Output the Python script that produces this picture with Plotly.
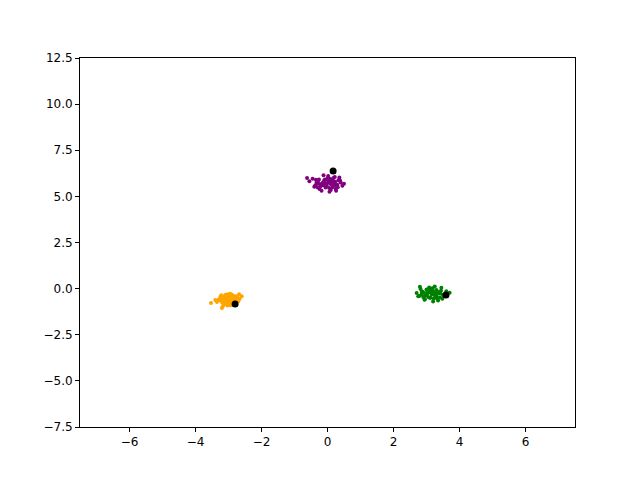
import plotly.graph_objects as go

# cluster points
purple_x = [-0.05, 0.12, -0.21, 0.30, -0.35, 0.05, 0.18, -0.10, 0.25, -0.28, 0.40, -0.45, 0.02, 0.15,
            -0.18, 0.33, -0.02, 0.08, -0.30, 0.22, -0.12, 0.45, -0.55, 0.10, -0.08, 0.28, -0.40, 0.00,
            0.19, -0.24, 0.36, -0.15, 0.06, 0.50, -0.62, 0.14, -0.04, 0.26, -0.33, 0.09, -0.20, 0.04,
            0.31, -0.11, 0.17, -0.26, 0.11, -0.06, 0.23, -0.16, 0.38, -0.37, 0.01, 0.13, -0.09, 0.21,
            -0.29, 0.07, -0.14, 0.27]
purple_y = [5.70, 5.85, 5.55, 5.62, 5.90, 5.45, 6.00, 5.78, 5.40, 5.68, 5.75, 5.95, 6.10, 5.50,
            5.30, 5.88, 5.62, 5.72, 5.48, 6.05, 6.15, 5.58, 5.82, 5.35, 5.92, 5.65, 5.52, 5.98,
            5.80, 5.40, 6.02, 5.60, 5.25, 5.68, 6.00, 5.90, 5.55, 5.30, 5.75, 5.82, 5.66, 5.77,
            5.50, 5.84, 5.58, 5.92, 5.64, 5.48, 5.79, 5.70, 5.86, 5.60, 5.88, 5.72, 5.60, 5.68,
            5.80, 5.96, 5.74, 5.56]

orange_x = [-3.05, -2.90, -3.15, -2.80, -3.25, -2.95, -3.10, -2.85, -3.00, -3.20, -2.75, -3.35, -2.92,
            -3.08, -2.88, -3.18, -2.98, -3.12, -2.82, -3.28, -2.70, -3.02, -2.94, -3.22, -2.86, -3.14,
            -3.53, -3.20, -2.60, -2.66, -3.04, -2.96, -3.16, -2.84, -3.06, -2.78, -3.24, -2.91, -3.01,
            -3.11, -2.89, -3.19, -2.99, -3.09, -2.87, -3.30, -2.73, -3.03, -2.97, -3.13, -2.83, -3.23,
            -2.93, -3.07, -2.76, -3.40, -2.68, -3.17, -2.81, -3.00]
orange_y = [-0.55, -0.40, -0.70, -0.60, -0.45, -0.80, -0.35, -0.50, -0.65, -0.58, -0.42, -0.72, -0.30,
            -0.62, -0.75, -0.48, -0.38, -0.85, -0.52, -0.60, -0.68, -0.44, -0.90, -0.36, -0.66, -0.54,
            -0.78, -1.05, -0.42, -0.55, -0.74, -0.56, -0.46, -0.82, -0.32, -0.64, -0.52, -0.70, -0.48,
            -0.58, -0.36, -0.76, -0.62, -0.44, -0.88, -0.60, -0.50, -0.92, -0.28, -0.68, -0.40, -0.66,
            -0.54, -0.80, -0.72, -0.62, -0.30, -0.96, -0.46, -0.58]

green_x = [3.15, 3.00, 3.30, 2.90, 3.45, 3.10, 3.22, 2.85, 3.05, 3.38, 2.80, 3.50, 3.18, 2.95, 3.28,
           3.08, 2.75, 3.40, 3.12, 3.02, 3.35, 2.88, 3.25, 3.55, 2.70, 3.20, 3.60, 2.98, 3.32, 3.14,
           3.06, 3.42, 2.92, 3.26, 3.10, 2.82, 3.48, 3.16, 3.04, 3.36, 2.94, 3.24, 3.70, 2.78, 3.30,
           3.12, 3.00, 3.44, 3.18, 2.86, 3.22, 3.52, 3.08, 2.96, 3.34, 3.14, 3.02, 3.28, 2.90, 3.20]
green_y = [-0.25, -0.05, -0.40, -0.20, 0.05, -0.50, -0.15, -0.32, -0.45, -0.22, 0.10, -0.35, 0.02,
           -0.58, -0.28, -0.18, -0.42, -0.48, -0.06, -0.26, -0.65, -0.20, 0.12, -0.30, -0.24, -0.70,
           -0.14, -0.36, -0.52, 0.00, -0.16, -0.26, -0.44, -0.38, -0.20, -0.02, -0.55, -0.32, -0.10,
           -0.18, -0.60, -0.28, -0.22, -0.40, -0.08, -0.50, -0.30, -0.12, -0.24, -0.16, -0.54, -0.42,
           0.06, -0.36, -0.26, -0.14, -0.20, -0.30, -0.46, -0.18]

# centroids
centroid_x = [0.17, -2.80, 3.59]
centroid_y = [6.38, -0.83, -0.35]

fig = go.Figure()
for xs, ys, c in [(purple_x, purple_y, 'purple'), (orange_x, orange_y, 'orange'), (green_x, green_y, 'green')]:
    fig.add_trace(go.Scatter(x=xs, y=ys, mode='markers',
                             marker=dict(color=c, size=4), showlegend=False))
fig.add_trace(go.Scatter(x=centroid_x, y=centroid_y, mode='markers',
                         marker=dict(color='black', size=7), showlegend=False))

axis_style = dict(showline=True, linecolor='black', linewidth=1, mirror=True, ticks='outside',
                  ticklen=4, tickcolor='black', showgrid=False, zeroline=False,
                  tickfont=dict(family='DejaVu Sans', size=12, color='black'))
fig.update_layout(
    width=640, height=480,
    margin=dict(l=72, r=73, t=50, b=61),
    plot_bgcolor='white', paper_bgcolor='white',
    xaxis=dict(range=[-7.5, 7.5], tickvals=[-6, -4, -2, 0, 2, 4, 6], **axis_style),
    yaxis=dict(range=[-7.5, 12.5], tickvals=[-7.5, -5, -2.5, 0, 2.5, 5, 7.5, 10, 12.5],
               tickformat='.1f', **axis_style),
)
fig.write_html('out.html')
